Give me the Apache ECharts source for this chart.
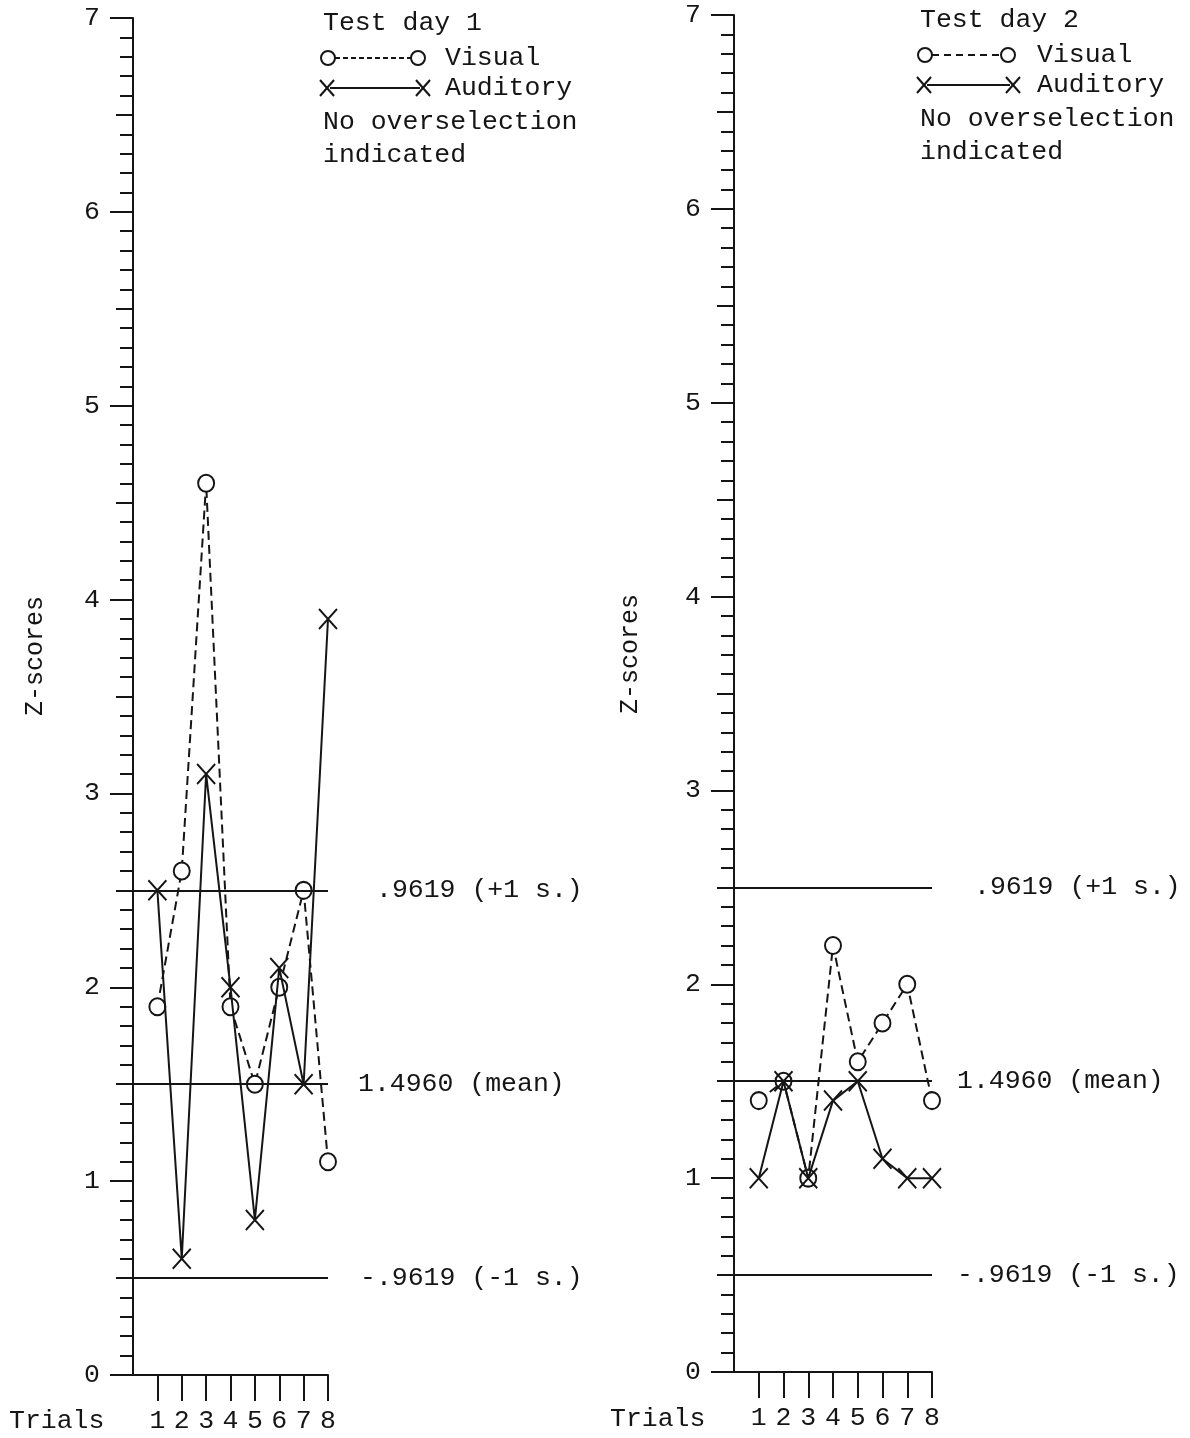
<!DOCTYPE html>
<html>
<head>
<meta charset="utf-8">
<script src="https://cdn.jsdelivr.net/npm/echarts@6/dist/echarts.min.js"></script>
<style>
  html, body { margin: 0; padding: 0; background: #fff; }
  #chart { width: 1190px; height: 1438px; }
</style>
</head>
<body>
<div id="chart"></div>
<script>
const trials = [1, 2, 3, 4, 5, 6, 7, 8]
const day1Visual = [1.9, 2.6, 4.6, 1.9, 1.5, 2.0, 2.5, 1.1]
const day1Auditory = [2.5, 0.6, 3.1, 2.0, 0.8, 2.1, 1.5, 3.9]
const day2Visual = [1.4, 1.5, 1.0, 2.2, 1.6, 1.8, 2.0, 1.4]
const day2Auditory = [1.0, 1.5, 1.0, 1.4, 1.5, 1.1, 1.0, 1.0]
const refValues = [2.5, 1.5, 0.5]
const refLabels = ['.9619 (+1 s.)', '1.4960 (mean)', '-.9619 (-1 s.)']
const panelTitles = ['Test day 1', 'Test day 2']

const ink = '#151515'
const font = "'Liberation Mono', 'Courier New', monospace"
const fontSize = 26.5

const panels = [
  { left: 133, width: 195, top: 18, height: 1357, visual: day1Visual, auditory: day1Auditory, refGap: [48, 30, 32], dash: [9, 5] },
  { left: 734, width: 198, top: 15, height: 1357, visual: day2Visual, auditory: day2Auditory, refGap: [42, 25, 25], dash: [9, 5] },
]

const crossPath = 'path://M0,0L20,20M20,0L0,20'

const grid = []
const xAxis = []
const yAxis = []
const series = []

panels.forEach((p, i) => {
  grid.push({ left: p.left, top: p.top, width: p.width, height: p.height })
  xAxis.push({
    type: 'value',
    gridIndex: i,
    min: 0,
    max: 8,
    axisLine: { show: true, lineStyle: { color: ink, width: 2 } },
    axisTick: { show: true, customValues: trials, length: 26, lineStyle: { color: ink, width: 2 } },
    axisLabel: { customValues: trials, margin: 32, color: ink, fontFamily: font, fontSize },
    splitLine: { show: false },
  })
  // major ticks with labels
  yAxis.push({
    type: 'value',
    gridIndex: i,
    min: 0,
    max: 7,
    interval: 1,
    axisLine: { show: true, onZero: false, lineStyle: { color: ink, width: 2 } },
    axisTick: { show: true, length: 23, lineStyle: { color: ink, width: 2 } },
    axisLabel: { margin: 33, color: ink, fontFamily: font, fontSize },
    splitLine: { show: false },
  })
  // half and tenth ticks
  yAxis.push({
    type: 'value',
    gridIndex: i,
    position: 'left',
    min: 0,
    max: 7,
    interval: 0.5,
    axisLine: { show: false },
    axisTick: { show: true, length: 17, lineStyle: { color: ink, width: 2 } },
    minorTick: { show: true, splitNumber: 5, length: 13, lineStyle: { color: ink, width: 2 } },
    axisLabel: { show: false },
    splitLine: { show: false },
  })

  series.push({
    name: 'Visual',
    type: 'line',
    xAxisIndex: i,
    yAxisIndex: i * 2,
    data: trials.map((t, k) => [t, p.visual[k]]),
    symbol: 'emptyCircle',
    symbolSize: [16, 17],
    showAllSymbol: true,
    lineStyle: { color: ink, width: 2, type: p.dash },
    itemStyle: { color: ink, borderWidth: 2 },
    z: 3,
    markLine: {
      silent: true,
      symbol: 'none',
      lineStyle: { color: ink, width: 2, type: 'solid' },
      label: { position: 'end', color: ink, fontFamily: font, fontSize },
      data: refValues.map((v, k) => ({
        yAxis: v,
        label: { formatter: refLabels[k], distance: p.refGap[k] },
      })),
    },
  })
  series.push({
    name: 'Auditory',
    type: 'line',
    xAxisIndex: i,
    yAxisIndex: i * 2,
    data: trials.map((t, k) => [t, p.auditory[k]]),
    symbol: crossPath,
    symbolSize: [18, 20],
    showAllSymbol: true,
    lineStyle: { color: ink, width: 2 },
    itemStyle: { color: ink, borderColor: ink, borderWidth: 2 },
    z: 4,
  })
})

// legend blocks and captions
const textStyle = (text, x, y, extra) =>
  Object.assign({ type: 'text', x, y, style: { text, fill: ink, font: fontSize + 'px ' + font, verticalAlign: 'middle' } }, extra || {})

const cross = (cx, cy) => [
  { type: 'line', shape: { x1: cx - 7, y1: cy - 8, x2: cx + 7, y2: cy + 8 }, style: { stroke: ink, lineWidth: 2 } },
  { type: 'line', shape: { x1: cx + 7, y1: cy - 8, x2: cx - 7, y2: cy + 8 }, style: { stroke: ink, lineWidth: 2 } },
]

const legendBlock = (title, x0, y0, textX, circR, dashLen) => [
  textStyle(title, x0, y0),
  { type: 'circle', shape: { cx: x0 + 5, cy: y0 + 35, r: 7 }, style: { fill: '#fff', stroke: ink, lineWidth: 2 } },
  { type: 'line', shape: { x1: x0 + 12, y1: y0 + 35, x2: circR - 7, y2: y0 + 35 }, style: { stroke: ink, lineWidth: 2, lineDash: dashLen } },
  { type: 'circle', shape: { cx: circR, cy: y0 + 35, r: 7 }, style: { fill: '#fff', stroke: ink, lineWidth: 2 } },
  textStyle('Visual', textX, y0 + 35),
  ...cross(x0 + 4, y0 + 65),
  { type: 'line', shape: { x1: x0 + 7, y1: y0 + 65, x2: circR + 2, y2: y0 + 65 }, style: { stroke: ink, lineWidth: 2 } },
  ...cross(circR + 5, y0 + 65),
  textStyle('Auditory', textX, y0 + 65),
  textStyle('No overselection', x0, y0 + 99),
  textStyle('indicated', x0, y0 + 132),
]

const zLabel = (x, y) => ({
  type: 'text', x, y, rotation: Math.PI / 2,
  style: { text: 'Z-scores', fill: ink, font: '25px ' + font, align: 'center', verticalAlign: 'middle' },
})

const graphic = [
  ...legendBlock(panelTitles[0], 323, 23, 445, 418, [5, 3]),
  ...legendBlock(panelTitles[1], 920, 20, 1037, 1008, [7, 5]),
  zLabel(35, 656),
  zLabel(630, 654),
  textStyle('Trials', 9, 1421),
  textStyle('Trials', 610, 1419),
]

const chart = echarts.init(document.getElementById('chart'))
chart.setOption({
  backgroundColor: '#fff',
  animation: false,
  grid,
  xAxis,
  yAxis,
  series,
  graphic,
})
</script>
</body>
</html>
